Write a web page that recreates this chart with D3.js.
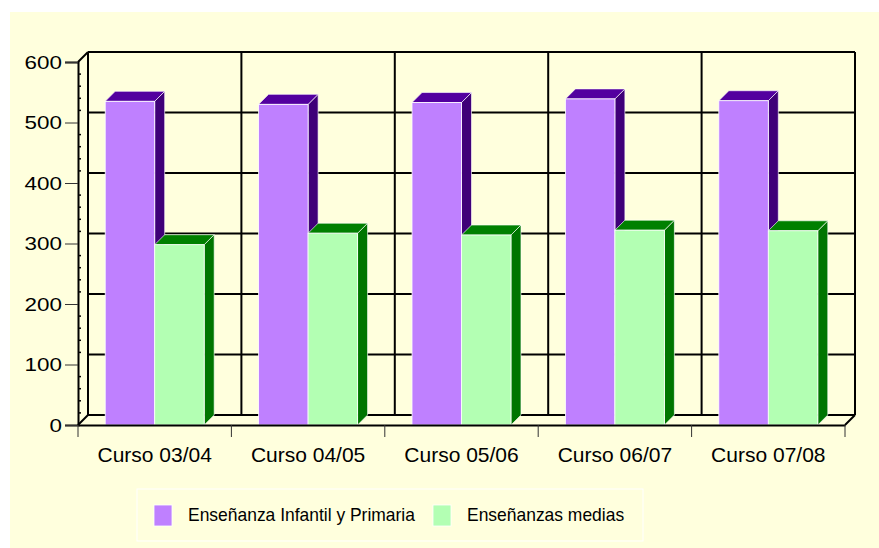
<!DOCTYPE html>
<html>
<head>
<meta charset="utf-8">
<script src="https://cdn.jsdelivr.net/npm/d3@7"></script>
<style>
  html, body { margin: 0; padding: 0; background: #ffffff; }
  svg { display: block; }
  text { font-family: "Liberation Sans", Arial, sans-serif; fill: #000; }
</style>
</head>
<body>
<svg id="chart" width="879" height="548"></svg>
<script>
// ---- data ----
const categories = ["Curso 03/04", "Curso 04/05", "Curso 05/06", "Curso 06/07", "Curso 07/08"];
const seriesNames = ["Enseñanza Infantil y Primaria", "Enseñanzas medias"];
const infantilPrimaria = [535, 530, 533, 539, 536];
const ensMedias = [298, 317, 314, 322, 321];
const yTicks = [0, 100, 200, 300, 400, 500, 600];

// ---- styles ----
const palette = [
  { front: "#bf80ff", top: "#53009f", side: "#3f0078" },
  { front: "#b3ffb3", top: "#008000", side: "#007500" }
];
const DX = 10, DY = -10;

const svg = d3.select("#chart");
svg.append("rect").attr("x", 10).attr("y", 12).attr("width", 869).attr("height", 536).attr("fill", "#ffffdd");

const x = d3.scaleBand().domain(categories).range([78, 845]).padding(0);
const xs = d3.scaleBand().domain(seriesNames).range([0, x.bandwidth()]).paddingInner(0).paddingOuter(0.55);
const y = d3.scaleLinear().domain([0, 600]).range([425, 62]);

const g = svg.append("g");

// back wall gridlines (horizontal)
g.selectAll("line.hgrid").data(yTicks).join("line")
  .attr("x1", 78 + DX).attr("x2", 845 + DX)
  .attr("y1", d => y(d) + DY).attr("y2", d => y(d) + DY)
  .attr("stroke", "#000").attr("stroke-width", 2);
// back wall vertical lines
const vlines = categories.map(c => x(c)).concat([845]);
g.selectAll("line.vgrid").data(vlines).join("line")
  .attr("x1", d => d + DX).attr("x2", d => d + DX)
  .attr("y1", y(600) + DY).attr("y2", y(0) + DY)
  .attr("stroke", "#000").attr("stroke-width", 2);
// floor / left wall edges
[[78, y(0), 78 + DX, y(0) + DY], [845, y(0), 845 + DX, y(0) + DY], [78, y(600), 78 + DX, y(600) + DY]].forEach(l => {
  g.append("line").attr("x1", l[0]).attr("y1", l[1]).attr("x2", l[2]).attr("y2", l[3])
    .attr("stroke", "#000").attr("stroke-width", 2);
});

// bars
const seriesValues = [infantilPrimaria, ensMedias];
categories.forEach((c, ci) => {
  seriesNames.forEach((s, si) => {
    const v = seriesValues[si][ci];
    const x0 = x(c) + xs(s), x1 = x0 + xs.bandwidth();
    const yt = y(v), yb = y(0);
    const col = palette[si];
    const bg = g.append("g");
    bg.append("polygon")
      .attr("points", [[x1, yt], [x1 + DX, yt + DY], [x1 + DX, yb + DY], [x1, yb]].map(p => p.join(",")).join(" "))
      .attr("fill", col.side).attr("stroke", "#ffffff").attr("stroke-width", 0.8).attr("stroke-opacity", 0.8);
    bg.append("polygon")
      .attr("points", [[x0, yt], [x0 + DX, yt + DY], [x1 + DX, yt + DY], [x1, yt]].map(p => p.join(",")).join(" "))
      .attr("fill", col.top).attr("stroke", "#ffffff").attr("stroke-width", 0.8).attr("stroke-opacity", 0.8);
    bg.append("rect")
      .attr("x", x0).attr("y", yt).attr("width", x1 - x0).attr("height", yb - yt)
      .attr("fill", col.front).attr("stroke", "#ffffff").attr("stroke-width", 0.8);
  });
});

// front y axis
const yAxis = d3.axisLeft(y).tickValues(yTicks).tickSize(13).tickPadding(3);
const ya = svg.append("g").attr("transform", "translate(78,0)").call(yAxis);
ya.select(".domain").attr("stroke", "#000").attr("stroke-width", 2);
ya.selectAll(".tick line").attr("stroke", "#333");
ya.selectAll("text").style("font-size", "19px").attr("font-family", "Liberation Sans, Arial, sans-serif")
  .attr("x", 0).attr("transform", "translate(-16,0) scale(1.18,1)");
// minor ticks
const minor = d3.range(0, 601, 20).filter(v => v % 100 !== 0);
svg.selectAll("line.minor").data(minor).join("line")
  .attr("x1", 78).attr("x2", 81).attr("y1", d => y(d)).attr("y2", d => y(d))
  .attr("stroke", "#000").attr("stroke-width", 1.5);

// front x axis
const xAxis = d3.axisBottom(x).tickSize(0).tickPadding(22);
const xa = svg.append("g").attr("transform", `translate(0,${y(0)})`).call(xAxis);
xa.select(".domain").attr("stroke", "#000").attr("stroke-width", 2);
xa.selectAll("text").style("font-size", "21px").attr("font-family", "Liberation Sans, Arial, sans-serif");
svg.selectAll("line.xtick").data(vlines).join("line")
  .attr("x1", d => d).attr("x2", d => d).attr("y1", y(0)).attr("y2", y(0) + 12)
  .attr("stroke", "#333").attr("stroke-width", 1);

// legend
svg.append("rect").attr("x", 137).attr("y", 489).attr("width", 506).attr("height", 52)
  .attr("fill", "none").attr("stroke", "#ffffff").attr("stroke-width", 1);
const legX = [154, 433], legTX = [188, 467];
seriesNames.forEach((s, i) => {
  svg.append("rect").attr("x", legX[i]).attr("y", 505).attr("width", 18).attr("height", 21)
    .attr("fill", palette[i].front).attr("stroke", "#ffffff").attr("stroke-width", 0.8);
  svg.append("text").attr("x", 0).attr("y", 0)
    .attr("transform", `translate(${legTX[i]},521) scale(0.97,1)`)
    .style("font-size", "18px").text(s);
});
</script>
</body>
</html>
